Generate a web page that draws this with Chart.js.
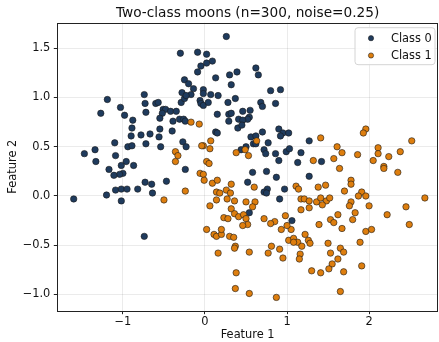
<!DOCTYPE html>
<html>
<head>
<meta charset="utf-8">
<script src="https://cdn.jsdelivr.net/npm/chart.js@4.4.1/dist/chart.umd.min.js"></script>
<style>
  html, body { margin: 0; padding: 0; background: #fff; overflow: hidden; }
  #wrap { width: 439px; height: 342px; }
  canvas { display: block; }
</style>
</head>
<body>
<div id="wrap"><canvas id="moonsChart" width="439" height="342"></canvas></div>
<script>
// Class 0 (upper moon)
var class0X = [-0.30, -0.25, -1.19, -0.74, -0.73, -1.27, -1.03, -0.98, -0.72, -0.88, -0.60, -0.57, -0.51, -0.48, -0.52, -0.42, -0.35, -0.55, -0.39, -0.31,
    -0.26, -0.28, -0.29, -0.25, 0.26, -0.09, 0.02, 0.09, 0.02, -0.05, -0.09, 0.62, 0.65, 0.39, 0.30, 0.13, 0.32, -0.20, -0.14, -0.02,
    -0.02, -0.17, 0.07, 0.16, 0.37, 0.28, -0.06, -0.05, -0.02, 0.04, 0.80, 0.92, 0.68, 0.70, 0.86, 0.15, 0.29, 0.32, 0.46, 0.55,
    0.54, 0.52, 0.41, 0.46, 0.29, -0.89, -0.90, -0.78, -0.67, -0.55, -0.56, -0.40, -1.10, -0.94, -0.89, -0.72, -0.54, -0.27, -1.47, -1.34,
    -1.33, -1.09, -0.96, -1.02, -0.87, -1.17, -1.00, -1.04, -1.11, -0.73, -0.65, -0.47, -1.09, -1.02, -0.95, -0.82, -1.20, -0.64, -1.60, -1.02,
    -0.24, 0.40, 0.13, 0.15, 0.70, 0.90, 0.95, 0.92, 1.02, 1.27, 0.56, 0.62, 0.59, 0.62, 0.50, 0.77, 0.44, 0.72, 0.74, 0.86,
    0.99, 1.03, 1.17, 0.90, 1.13, 0.75, 0.58, 0.87, 1.27, 0.52, 0.76, 0.72, 0.75, 0.97, 0.91, 0.54, 1.06, 1.42, -0.74, -0.23,
    0.45, -0.24, -0.23];
var class0Y = [1.45, 1.18, 0.98, 1.03, 0.94, 0.84, 0.90, 0.82, 0.85, 0.77, 0.94, 0.95, 0.88, 0.88, 0.84, 0.86, 0.86, 0.79, 0.76, 0.78,
    0.78, 1.05, 0.95, 0.99, 1.62, 1.46, 1.44, 1.37, 1.35, 1.32, 1.26, 1.30, 1.23, 1.26, 1.23, 1.20, 1.13, 1.14, 1.09, 1.08,
    1.04, 1.03, 1.03, 1.02, 0.99, 0.95, 0.97, 0.94, 0.92, 0.95, 1.07, 1.08, 0.95, 0.91, 0.94, 0.83, 0.83, 0.84, 0.86, 0.87,
    0.80, 0.78, 0.78, 0.77, 0.76, 0.69, 0.61, 0.62, 0.63, 0.68, 0.60, 0.66, 0.54, 0.50, 0.51, 0.53, 0.50, 0.55, 0.43, 0.47,
    0.35, 0.41, 0.35, 0.31, 0.31, 0.27, 0.23, 0.22, 0.21, 0.14, 0.12, 0.15, 0.06, 0.07, 0.07, 0.07, 0.01, 0.03, -0.03, -0.05,
    0.27, 0.69, 0.65, 0.64, 0.65, 0.68, 0.64, 0.61, 0.64, 0.56, 0.60, 0.61, 0.53, 0.53, 0.50, 0.54, 0.47, 0.47, 0.43, 0.43,
    0.45, 0.48, 0.44, 0.36, 0.34, 0.25, 0.24, 0.19, 0.20, 0.14, 0.07, 0.04, 0.03, 0.07, -0.03, -0.17, -0.25, 0.35, -0.41, 1.02,
    0.72, 0.76, 0.50];

// Class 1 (lower moon)
var class1X = [-0.36, -0.33, -0.36, -0.50, -0.24, -0.17, -0.07, 0.07, -0.02, -0.04, 0.06, 0.38, 0.49, 0.53, 0.63, 0.02, 0.05, -0.06, -0.02, -0.01,
    0.09, 0.15, 0.32, 0.60, 0.14, 0.18, 0.26, 0.31, 0.14, 0.27, 0.36, 0.50, 0.61, 0.06, 0.32, 0.58, 0.36, 0.41, 0.47, 0.23,
    0.28, 0.50, 0.72, 1.11, 1.14, 1.17, 1.21, 1.27, 1.17, 1.27, 0.98, 0.52, 0.46, 0.02, 0.11, 0.14, 0.20, 0.20, 0.30, 0.35,
    0.37, 0.36, 0.16, 0.54, 0.77, 0.81, 0.91, 0.95, 0.93, 1.05, 1.02, 1.08, 1.13, 1.08, 1.22, 1.26, 1.28, 1.18, 1.16, 1.15,
    1.30, 0.38, 0.37, 0.54, 0.87, 0.85, 0.80, 1.00, 1.96, 1.93, 1.41, 2.52, 1.61, 1.67, 1.86, 2.11, 2.11, 2.38, 2.24, 2.05,
    1.32, 1.57, 1.64, 2.18, 2.18, 2.35, 1.78, 1.78, 1.47, 1.38, 1.70, 1.91, 1.87, 1.96, 2.68, 1.36, 1.41, 1.48, 1.52, 1.43,
    1.78, 1.76, 2.00, 2.45, 1.83, 1.62, 2.22, 1.53, 1.57, 1.80, 1.39, 1.67, 1.96, 2.03, 2.49, 1.50, 1.89, 1.65, 1.69, 1.53,
    1.62, 1.55, 1.91, 1.51, 1.41, 1.69, 1.65];
var class1Y = [0.45, 0.41, 0.35, -0.04, 0.05, 0.75, 0.73, 0.56, 0.51, 0.51, 0.48, 0.44, 0.47, 0.41, 0.56, 0.35, 0.33, 0.23, 0.22, 0.16,
    0.13, 0.16, 0.12, 0.09, 0.04, 0.03, 0.06, 0.03, -0.04, -0.03, -0.05, -0.06, -0.06, -0.10, -0.13, -0.11, -0.18, -0.21, -0.19, -0.22,
    -0.23, -0.23, -0.23, 0.10, 0.07, -0.03, -0.03, -0.05, -0.14, -0.12, -0.20, -0.29, -0.30, -0.34, -0.39, -0.41, -0.39, -0.34, -0.41, -0.42,
    -0.51, -0.53, -0.58, -0.57, -0.58, -0.51, -0.54, -0.63, -0.34, -0.34, -0.45, -0.43, -0.47, -0.47, -0.39, -0.45, -0.48, -0.51, -0.59, -0.64,
    -0.76, -0.78, -0.94, -0.99, -1.03, -0.26, -0.28, -0.30, 0.68, 0.64, 0.59, 0.56, 0.50, 0.44, 0.42, 0.49, 0.43, 0.45, 0.40, 0.36,
    0.36, 0.38, 0.28, 0.30, 0.28, 0.24, 0.16, 0.12, 0.11, 0.09, 0.05, 0.04, 0.00, 0.00, -0.02, -0.06, -0.02, -0.05, -0.02, -0.09,
    -0.06, -0.10, -0.10, -0.11, -0.17, -0.19, -0.19, -0.24, -0.27, -0.24, -0.29, -0.33, -0.36, -0.34, -0.29, -0.48, -0.47, -0.53, -0.57, -0.58,
    -0.64, -0.69, -0.71, -0.74, -0.78, -0.77, -0.97];

var seriesLabels = ['Class 0', 'Class 1'];
var chartTitle = 'Two-class moons (n=300, noise=0.25)';
var xTicks = [-1, 0, 1, 2];
var yTicks = [-1.0, -0.5, 0.0, 0.5, 1.0, 1.5];

document.addEventListener('DOMContentLoaded', function () {
    var FONT = 'DejaVu Sans';
    var BLUE = '#1f3b5d';
    var ORANGE = '#de7e0e';

    function toPoints(xs, ys) {
        var pts = [];
        for (var i = 0; i < xs.length; i++) pts.push({ x: xs[i], y: ys[i] });
        return pts;
    }

    // matplotlib style minus sign
    function fmt(v, digits) {
        var s = Math.abs(v).toFixed(digits);
        return (v < -1e-9 ? '\u2212' : '') + s;
    }

    // title over the axes, frame round the axes, legend box in the upper right corner
    var framePlugin = {
        id: 'frameAndLegend',
        afterDraw: function (chart) {
            var ctx = chart.ctx;
            var a = chart.chartArea;
            ctx.save();

            ctx.fillStyle = '#111';
            ctx.font = '13.7px "' + FONT + '"';
            ctx.textAlign = 'center';
            ctx.textBaseline = 'middle';
            ctx.fillText(chartTitle, (a.left + a.right) / 2, 13.5);

            ctx.strokeStyle = '#222';
            ctx.lineWidth = 1;
            ctx.strokeRect(Math.round(a.left) + 0.5, Math.round(a.top) + 0.5,
                Math.round(a.right - a.left) - 1, Math.round(a.bottom - a.top));

            // legend
            var w = 80, h = 37;
            var bx = a.right - 3 - w, by = a.top + 5;
            var r = 3;
            ctx.beginPath();
            ctx.moveTo(bx + r, by);
            ctx.arcTo(bx + w, by, bx + w, by + h, r);
            ctx.arcTo(bx + w, by + h, bx, by + h, r);
            ctx.arcTo(bx, by + h, bx, by, r);
            ctx.arcTo(bx, by, bx + w, by, r);
            ctx.closePath();
            ctx.fillStyle = 'rgba(255,255,255,0.85)';
            ctx.fill();
            ctx.strokeStyle = '#d4d4d4';
            ctx.stroke();

            ctx.font = '11.4px "' + FONT + '"';
            ctx.textAlign = 'left';
            chart.data.datasets.forEach(function (ds, i) {
                var cy = by + 10.5 + i * 17.3;
                ctx.beginPath();
                ctx.arc(bx + 16, cy, 2.6, 0, Math.PI * 2);
                ctx.fillStyle = ds.backgroundColor;
                ctx.fill();
                ctx.lineWidth = 0.6;
                ctx.strokeStyle = '#222';
                ctx.stroke();
                ctx.fillStyle = '#111';
                ctx.fillText(ds.label, bx + 36, cy + 0.5);
            });
            ctx.restore();
        }
    };

    var ctx = document.getElementById('moonsChart').getContext('2d');
    var moonsChart = new Chart(ctx, {
        type: 'scatter',
        data: {
            datasets: [{
                label: seriesLabels[0],
                data: toPoints(class0X, class0Y),
                backgroundColor: BLUE,
                borderColor: '#1a1a1a',
                borderWidth: 0.6,
                pointRadius: 3.2,
                order: 1
            }, {
                label: seriesLabels[1],
                data: toPoints(class1X, class1Y),
                backgroundColor: ORANGE,
                borderColor: '#1a1a1a',
                borderWidth: 0.6,
                pointRadius: 3.2,
                order: 0
            }]
        },
        options: {
            responsive: false,
            animation: false,
            layout: { autoPadding: false, padding: { left: 0, right: 1, top: 22.7, bottom: 0 } },
            plugins: {
                legend: { display: false },
                tooltip: { enabled: false },
                title: { display: false }
            },
            scales: {
                x: {
                    type: 'linear',
                    min: -1.8,
                    max: 2.84,
                    afterBuildTicks: function (s) {
                        s.ticks = xTicks.map(function (v) { return { value: v }; });
                    },
                    afterFit: function (s) {
                        s.height = 31.3;
                        s.paddingLeft = 0;
                        s.paddingRight = 0;
                    },
                    ticks: {
                        color: '#111',
                        padding: 1.5,
                        font: { family: FONT, size: 11.4 },
                        callback: function (v) { return fmt(v, 0); }
                    },
                    grid: { color: 'rgba(0,0,0,0.08)', tickColor: '#222', tickLength: 3.5 },
                    border: { display: false },
                    title: {
                        display: true,
                        text: 'Feature 1',
                        color: '#111',
                        font: { family: FONT, size: 11.4 },
                        padding: { top: 0, bottom: 0 }
                    }
                },
                y: {
                    type: 'linear',
                    min: -1.165,
                    max: 1.76,
                    afterBuildTicks: function (s) {
                        s.ticks = yTicks.map(function (v) { return { value: v }; });
                    },
                    afterFit: function (s) {
                        s.width = 57.3;
                        s.paddingTop = 0;
                        s.paddingBottom = 0;
                    },
                    ticks: {
                        color: '#111',
                        padding: 3.5,
                        font: { family: FONT, size: 11.4 },
                        callback: function (v) { return fmt(v, 1); }
                    },
                    grid: { color: 'rgba(0,0,0,0.08)', tickColor: '#222', tickLength: 3.5 },
                    border: { display: false },
                    title: {
                        display: true,
                        text: 'Feature 2',
                        color: '#111',
                        font: { family: FONT, size: 11.4 },
                        padding: { top: 6.6, bottom: 0 }
                    }
                }
            }
        },
        plugins: [framePlugin]
    });
});
</script>
</body>
</html>
